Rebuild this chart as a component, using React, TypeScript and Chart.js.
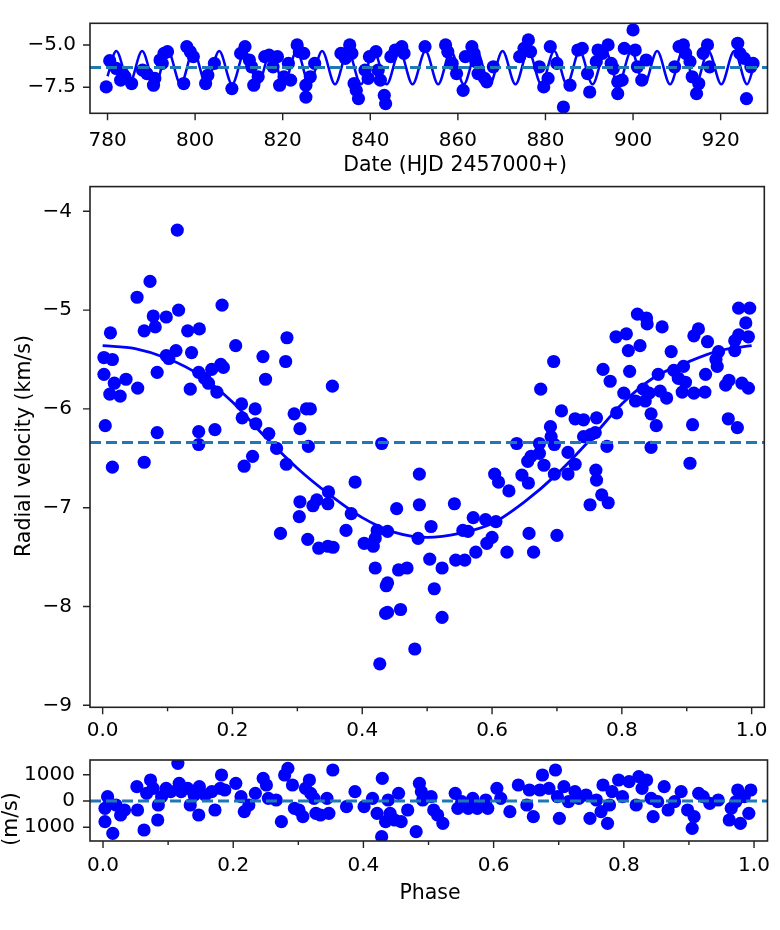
import React, { useEffect, useRef } from "react";
import { Chart, registerables } from "chart.js";

Chart.register(...registerables);

const FONT = "'DejaVu Sans', sans-serif";
const POINT_BLUE = "#0000ff";
const DASH_BLUE = "#1f77b4";

// ---------- Top panel: RV vs date ----------
const TIME_DATES = [779.7, 780.5, 782.0, 783.0, 784.0, 785.5, 783.5, 788.0, 789.0, 790.5, 790.8, 792.0, 792.9, 793.7, 792.5, 797.4, 798.1, 798.9, 799.6, 802.4, 802.9, 804.4, 808.4, 810.4, 811.4, 812.4, 812.9, 813.4, 814.4, 815.9, 816.9, 817.8, 818.8, 819.3, 820.3, 821.3, 821.8, 823.3, 823.8, 824.8, 825.3, 825.3, 826.3, 827.3, 833.3, 834.3, 835.3, 835.8, 836.3, 836.8, 837.3, 838.8, 839.5, 839.8, 841.3, 841.8, 842.3, 843.2, 843.5, 844.7, 845.7, 847.2, 847.7, 852.5, 857.2, 857.7, 858.7, 859.7, 861.2, 861.7, 863.2, 863.7, 864.1, 864.6, 866.1, 866.6, 868.1, 874.1, 875.1, 876.1, 876.6, 878.6, 879.6, 880.6, 881.1, 882.6, 884.1, 885.6, 887.4, 888.4, 889.6, 890.1, 891.6, 892.0, 893.0, 894.3, 895.0, 895.5, 896.5, 896.5, 897.5, 898.0, 900.0, 900.5, 901.0, 902.0, 903.0, 909.5, 910.5, 911.5, 912.0, 913.0, 913.5, 914.5, 915.0, 916.0, 917.0, 917.5, 923.9, 924.4, 925.4, 925.9, 926.9, 927.4];
const TIME_RV = [-7.48, -5.93, -6.39, -7.08, -6.88, -7.28, -6.69, -6.49, -6.69, -7.38, -6.98, -5.89, -5.5, -5.4, -6.09, -7.28, -5.1, -5.4, -5.69, -7.28, -6.79, -6.09, -7.58, -5.5, -5.1, -5.89, -6.29, -7.38, -6.88, -5.69, -5.6, -6.29, -5.69, -7.38, -6.88, -6.09, -7.08, -5.0, -5.4, -5.5, -7.38, -8.08, -6.88, -6.09, -5.5, -5.79, -5.0, -5.5, -7.28, -7.68, -8.17, -6.49, -6.98, -5.69, -5.4, -6.49, -7.08, -7.98, -8.47, -5.69, -5.3, -5.1, -5.5, -5.1, -5.0, -5.4, -6.09, -6.69, -7.68, -5.69, -5.1, -5.5, -5.99, -6.69, -6.98, -7.18, -6.29, -5.69, -5.2, -4.7, -5.4, -6.29, -7.48, -6.98, -5.1, -6.09, -8.67, -7.38, -5.3, -5.2, -6.69, -7.78, -5.99, -5.3, -5.5, -5.0, -6.09, -6.39, -7.18, -7.88, -7.08, -5.2, -4.11, -5.3, -6.29, -7.08, -5.89, -6.29, -5.1, -5.0, -5.5, -5.99, -6.88, -7.88, -7.28, -5.5, -5.0, -6.29, -4.9, -5.5, -5.79, -8.17, -6.29, -6.09];

// model curve turning points
const TIME_MODEL_DATES = [780.0, 782.0, 784.95, 787.9, 790.85, 793.8, 796.7, 799.6, 802.55, 805.5, 808.45, 811.4, 814.35, 817.3, 820.25, 823.2, 826.1, 829.0, 831.95, 834.9, 837.85, 840.8, 843.75, 846.7, 849.65, 852.6, 855.5, 858.4, 861.35, 864.3, 867.25, 870.2, 873.15, 876.1, 879.05, 882.0, 884.9, 887.8, 890.75, 893.7, 896.65, 899.6, 902.55, 905.5, 908.45, 911.4, 914.3, 917.2, 920.15, 923.1, 926.05, 927.5];
const TIME_MODEL_RV = [-6.85, -5.36, -7.32, -5.36, -7.32, -5.36, -7.32, -5.36, -7.32, -5.36, -7.32, -5.36, -7.32, -5.36, -7.32, -5.36, -7.32, -5.36, -7.32, -5.36, -7.32, -5.36, -7.32, -5.36, -7.32, -5.36, -7.32, -5.36, -7.32, -5.36, -7.32, -5.36, -7.32, -5.36, -7.32, -5.36, -7.32, -5.36, -7.32, -5.36, -7.32, -5.36, -7.32, -5.36, -7.32, -5.36, -7.32, -5.36, -7.32, -5.36, -7.32, -6.33];

const SYSTEMIC_RV = -6.34;

const TIME_X_TICKS = [780, 800, 820, 840, 860, 880, 900, 920];
const TIME_Y_TICKS = [-7.5, -5.0];

// ---------- Middle panel: RV vs phase ----------
const PHASE = [0.115, 0.073, 0.053, 0.184, 0.117, 0.078, 0.098, 0.081, 0.064, 0.012, 0.131, 0.149, 0.205, 0.284, 0.113, 0.137, 0.098, 0.102, 0.002, 0.015, 0.247, 0.282, 0.084, 0.148, 0.168, 0.182, 0.186, 0.002, 0.018, 0.036, 0.054, 0.011, 0.027, 0.135, 0.157, 0.163, 0.176, 0.251, 0.354, 0.214, 0.235, 0.215, 0.236, 0.256, 0.295, 0.314, 0.320, 0.304, 0.004, 0.084, 0.148, 0.173, 0.148, 0.268, 0.317, 0.430, 0.015, 0.064, 0.218, 0.231, 0.283, 0.488, 0.389, 0.348, 0.304, 0.330, 0.324, 0.347, 0.303, 0.453, 0.488, 0.383, 0.274, 0.316, 0.333, 0.347, 0.355, 0.375, 0.403, 0.417, 0.420, 0.423, 0.439, 0.486, 0.420, 0.456, 0.469, 0.439, 0.437, 0.436, 0.439, 0.459, 0.481, 0.427, 0.506, 0.504, 0.511, 0.523, 0.523, 0.542, 0.544, 0.558, 0.555, 0.563, 0.571, 0.575, 0.590, 0.606, 0.592, 0.600, 0.623, 0.657, 0.664, 0.700, 0.604, 0.610, 0.626, 0.646, 0.656, 0.655, 0.660, 0.673, 0.680, 0.696, 0.717, 0.717, 0.728, 0.760, 0.761, 0.769, 0.751, 0.779, 0.777, 0.845, 0.905, 0.638, 0.673, 0.696, 0.695, 0.675, 0.707, 0.728, 0.741, 0.761, 0.690, 0.691, 0.741, 0.752, 0.759, 0.792, 0.803, 0.771, 0.782, 0.791, 0.807, 0.810, 0.828, 0.812, 0.824, 0.838, 0.839, 0.862, 0.876, 0.845, 0.853, 0.821, 0.833, 0.836, 0.842, 0.856, 0.859, 0.869, 0.880, 0.887, 0.895, 0.893, 0.898, 0.911, 0.928, 0.929, 0.909, 0.911, 0.918, 0.932, 0.947, 0.945, 0.949, 0.960, 0.965, 0.964, 0.978, 0.985, 0.995, 0.974, 0.974, 0.980, 0.995, 0.991, 0.980, 0.997];
const PHASE_RV = [-4.19, -4.71, -4.87, -4.95, -5.0, -5.06, -5.07, -5.17, -5.21, -5.23, -5.21, -5.19, -5.36, -5.28, -5.41, -5.43, -5.46, -5.49, -5.48, -5.5, -5.47, -5.52, -5.63, -5.63, -5.6, -5.55, -5.58, -5.65, -5.74, -5.7, -5.79, -5.85, -5.87, -5.8, -5.69, -5.74, -5.83, -5.7, -5.77, -5.95, -6.0, -6.09, -6.15, -6.25, -6.05, -6.0, -6.0, -6.2, -6.17, -6.24, -6.23, -6.21, -6.36, -6.4, -6.38, -6.35, -6.59, -6.54, -6.58, -6.48, -6.56, -6.66, -6.74, -6.84, -6.94, -6.92, -6.98, -6.96, -7.09, -7.01, -6.97, -7.06, -7.26, -7.32, -7.41, -7.39, -7.4, -7.23, -7.36, -7.39, -7.31, -7.23, -7.24, -7.31, -7.61, -7.63, -7.61, -7.76, -7.79, -8.07, -8.06, -8.03, -8.43, -8.58, -7.19, -7.52, -7.82, -7.61, -8.11, -6.96, -7.53, -7.53, -7.23, -7.24, -7.1, -7.45, -7.12, -7.14, -7.36, -7.3, -7.45, -7.26, -7.45, -7.28, -6.66, -6.74, -6.83, -6.67, -6.75, -6.53, -6.48, -6.45, -6.57, -6.66, -6.44, -6.66, -6.56, -6.62, -6.72, -6.87, -6.97, -6.95, -6.38, -6.39, -6.55, -6.35, -6.35, -6.36, -5.52, -5.8, -6.02, -6.1, -6.11, -6.09, -6.18, -6.28, -6.28, -6.26, -6.24, -6.04, -5.84, -5.6, -5.72, -5.27, -5.24, -5.41, -5.36, -5.62, -5.04, -5.08, -5.14, -5.17, -5.42, -6.05, -6.17, -5.92, -5.8, -5.92, -5.84, -5.65, -5.82, -5.89, -5.61, -5.69, -5.57, -5.83, -5.73, -5.84, -5.83, -5.65, -6.16, -5.26, -5.19, -5.32, -5.57, -5.5, -5.42, -5.76, -5.71, -6.1, -6.19, -5.74, -5.79, -5.41, -5.31, -5.25, -5.27, -5.13, -4.98, -4.98];

// fitted orbit
const MODEL_PHASE = [0.0, 0.05, 0.1, 0.15, 0.2, 0.25, 0.3, 0.35, 0.4, 0.45, 0.5, 0.55, 0.6, 0.65, 0.7, 0.75, 0.8, 0.85, 0.9, 0.95, 1.0];
const MODEL_RV = [-5.36, -5.39, -5.49, -5.66, -5.93, -6.28, -6.6, -6.87, -7.1, -7.25, -7.3, -7.26, -7.16, -6.94, -6.66, -6.32, -5.95, -5.68, -5.53, -5.41, -5.36];

const PHASE_X_TICKS = [0.0, 0.2, 0.4, 0.6, 0.8, 1.0];
const PHASE_X_MINOR = [0.1, 0.3, 0.5, 0.7, 0.9];
const RV_Y_TICKS = [-9, -8, -7, -6, -5, -4];

// ---------- Bottom panel: residuals vs phase ----------
const RESID_PHASE = [0.003, 0.007, 0.010, 0.003, 0.015, 0.020, 0.027, 0.033, 0.053, 0.052, 0.063, 0.067, 0.073, 0.077, 0.084, 0.085, 0.090, 0.097, 0.104, 0.115, 0.117, 0.120, 0.130, 0.134, 0.140, 0.147, 0.148, 0.157, 0.167, 0.172, 0.180, 0.182, 0.187, 0.204, 0.212, 0.217, 0.224, 0.234, 0.246, 0.251, 0.254, 0.266, 0.274, 0.279, 0.284, 0.291, 0.294, 0.301, 0.307, 0.311, 0.317, 0.319, 0.324, 0.327, 0.334, 0.344, 0.347, 0.353, 0.374, 0.387, 0.401, 0.414, 0.421, 0.428, 0.429, 0.434, 0.438, 0.441, 0.448, 0.454, 0.458, 0.468, 0.481, 0.486, 0.489, 0.491, 0.504, 0.508, 0.514, 0.522, 0.541, 0.545, 0.551, 0.561, 0.568, 0.575, 0.588, 0.591, 0.605, 0.611, 0.625, 0.638, 0.651, 0.655, 0.661, 0.671, 0.675, 0.685, 0.695, 0.698, 0.701, 0.708, 0.715, 0.725, 0.731, 0.742, 0.748, 0.758, 0.765, 0.768, 0.775, 0.778, 0.782, 0.792, 0.798, 0.808, 0.819, 0.823, 0.828, 0.835, 0.842, 0.845, 0.852, 0.862, 0.868, 0.878, 0.888, 0.898, 0.905, 0.908, 0.915, 0.922, 0.932, 0.945, 0.962, 0.965, 0.972, 0.975, 0.979, 0.985, 0.992, 0.995];
const RESID_MS = [-280, 165, -89, -789, -1234, -153, -534, -343, -343, 547, -1107, 293, 801, 483, -725, -153, 165, 483, 356, 1437, 674, 356, 483, -153, 229, -534, 547, 229, 356, -343, 483, 992, 420, 674, 165, -407, -153, 293, 865, 611, 102, 38, -789, 992, 1247, 611, -280, -343, -598, 483, 801, 293, 102, -471, -534, 102, -471, 1183, -216, 356, -216, 102, -471, -1361, 865, -789, 38, -471, -725, 293, -789, -343, -1170, 674, 356, 38, 165, -343, -534, -852, 293, -280, -25, -280, 102, -280, 38, -280, 483, 102, -407, 611, -153, 420, -598, 420, 992, 483, 1183, 165, -661, 547, -25, 356, 102, 229, -661, 38, -407, 611, -852, -153, 356, 801, 165, 738, -153, 929, 483, 801, 102, -598, -25, 547, -343, -25, 356, -343, -1043, -598, 293, 165, -89, 38, -725, -280, -25, 420, -852, 165, -471, 420];

const RESID_Y_TICKS = [-1000, 0, 1000];

type Title = { text: string; x: number; y: number; rotate?: boolean; size: number };
type Spec = {
  top: number;
  height: number;
  area: { left: number; right: number; top: number; bottom: number };
  x: { min: number; max: number; major: number[]; minor: number[]; fmt: (v: number) => string; pad: number };
  y: { min: number; max: number; major: number[]; fmt: (v: number) => string; pad: number };
  tickSize: number;
  titles: Title[];
  datasets: any[];
};

const minus = (s: string) => s.replace("-", "\u2212");

function pts(xs: number[], ys: number[]) {
  return xs.map((x, i) => ({ x, y: ys[i] }));
}

function scatterSet(xs: number[], ys: number[]) {
  return {
    type: "scatter",
    data: pts(xs, ys),
    pointRadius: 6.6,
    pointHoverRadius: 6.6,
    pointBackgroundColor: POINT_BLUE,
    pointBorderWidth: 0,
    borderWidth: 0,
    showLine: false,
    order: 3,
    clip: 0,
  };
}

function curveSet(xs: number[], ys: number[], width: number) {
  return {
    type: "line",
    data: pts(xs, ys),
    borderColor: POINT_BLUE,
    borderWidth: width,
    pointRadius: 0,
    showLine: true,
    fill: false,
    cubicInterpolationMode: "monotone",
    order: 2,
    clip: 0,
  };
}

function dashSet(xmin: number, xmax: number, y: number) {
  return {
    type: "line",
    data: [
      { x: xmin, y },
      { x: xmax, y },
    ],
    borderColor: DASH_BLUE,
    borderWidth: 3,
    borderDash: [11, 5],
    pointRadius: 0,
    showLine: true,
    fill: false,
    order: 1,
    clip: 0,
  };
}

function makeConfig(spec: Spec): any {
  const a = spec.area;
  const decor = {
    id: "decor",
    afterDatasetsDraw(chart: any) {
      const ctx = chart.ctx;
      const ca = chart.chartArea;
      const xs = chart.scales.x;
      const ys = chart.scales.y;
      ctx.save();
      ctx.strokeStyle = "#222";
      ctx.lineWidth = 1.6;
      ctx.strokeRect(ca.left, ca.top, ca.right - ca.left, ca.bottom - ca.top);
      ctx.lineWidth = 1.4;
      ctx.beginPath();
      spec.x.major.forEach((v) => {
        const p = xs.getPixelForValue(v);
        ctx.moveTo(p, ca.bottom);
        ctx.lineTo(p, ca.bottom + 7);
      });
      spec.x.minor.forEach((v) => {
        const p = xs.getPixelForValue(v);
        ctx.moveTo(p, ca.bottom);
        ctx.lineTo(p, ca.bottom + 4);
      });
      spec.y.major.forEach((v) => {
        const p = ys.getPixelForValue(v);
        ctx.moveTo(ca.left, p);
        ctx.lineTo(ca.left - 7, p);
      });
      ctx.stroke();
      ctx.fillStyle = "#000";
      ctx.textAlign = "center";
      ctx.textBaseline = "middle";
      spec.titles.forEach((t) => {
        ctx.font = `${t.size}px ${FONT}`;
        const ty = t.y - spec.top;
        if (t.rotate) {
          ctx.save();
          ctx.translate(t.x, ty);
          ctx.rotate(-Math.PI / 2);
          ctx.fillText(t.text, 0, 0);
          ctx.restore();
        } else {
          ctx.fillText(t.text, t.x, ty);
        }
      });
      ctx.restore();
    },
  };

  const tickFont = { family: FONT, size: spec.tickSize };
  return {
    type: "scatter",
    data: { datasets: spec.datasets },
    options: {
      responsive: false,
      animation: false,
      devicePixelRatio: 1,
      events: [],
      layout: {
        padding: { left: 0, right: 780 - a.right, top: a.top - spec.top, bottom: 0 },
      },
      plugins: { legend: { display: false }, tooltip: { enabled: false }, title: { display: false } },
      scales: {
        x: {
          type: "linear",
          position: "bottom",
          min: spec.x.min,
          max: spec.x.max,
          afterBuildTicks: (s: any) => {
            s.ticks = spec.x.major.map((v) => ({ value: v }));
          },
          afterFit: (s: any) => {
            s.height = spec.top + spec.height - a.bottom;
            s.paddingLeft = 0;
            s.paddingRight = 0;
          },
          ticks: {
            autoSkip: false,
            maxRotation: 0,
            minRotation: 0,
            padding: spec.x.pad,
            color: "#000",
            font: tickFont,
            callback: (v: any) => spec.x.fmt(Number(v)),
          },
          grid: { display: true, drawOnChartArea: false, drawTicks: false },
          border: { display: false },
        },
        y: {
          type: "linear",
          position: "left",
          min: spec.y.min,
          max: spec.y.max,
          afterBuildTicks: (s: any) => {
            s.ticks = spec.y.major.map((v) => ({ value: v }));
          },
          afterFit: (s: any) => {
            s.width = a.left;
            s.paddingTop = 0;
            s.paddingBottom = 0;
          },
          ticks: {
            autoSkip: false,
            padding: spec.y.pad,
            color: "#000",
            font: tickFont,
            callback: (v: any) => spec.y.fmt(Number(v)),
          },
          grid: { display: true, drawOnChartArea: false, drawTicks: false },
          border: { display: false },
        },
      },
    },
    plugins: [decor],
  };
}

const TOP_X = { min: 776, max: 930.7 };
const MID_X = { min: -0.0195, max: 1.0195 };
const BOT_X = { min: -0.02, max: 1.0207 };

const SPECS: Spec[] = [
  {
    top: 0,
    height: 180,
    area: { left: 90, right: 767.5, top: 23.3, bottom: 113.3 },
    x: { ...TOP_X, major: TIME_X_TICKS, minor: [], fmt: (v) => String(v), pad: 15 },
    y: { min: -9.04, max: -3.72, major: TIME_Y_TICKS, fmt: (v) => minus(v.toFixed(1)), pad: 14 },
    tickSize: 20,
    titles: [{ text: "Date (HJD 2457000+)", x: 455, y: 166, size: 20.5 }],
    datasets: [
      dashSet(TOP_X.min, TOP_X.max, SYSTEMIC_RV),
      curveSet(TIME_MODEL_DATES, TIME_MODEL_RV, 2.5),
      scatterSet(TIME_DATES, TIME_RV),
    ],
  },
  {
    top: 180,
    height: 570,
    area: { left: 90, right: 764.3, top: 185.7, bottom: 707.3 },
    x: { ...MID_X, major: PHASE_X_TICKS, minor: PHASE_X_MINOR, fmt: (v) => v.toFixed(1), pad: 11 },
    y: { min: -9.02, max: -3.75, major: RV_Y_TICKS, fmt: (v) => minus(String(v)), pad: 18 },
    tickSize: 20,
    titles: [{ text: "Radial velocity (km/s)", x: 25, y: 446, rotate: true, size: 20.5 }],
    datasets: [
      dashSet(MID_X.min, MID_X.max, SYSTEMIC_RV),
      curveSet(MODEL_PHASE, MODEL_RV, 2.8),
      scatterSet(PHASE, PHASE_RV),
    ],
  },
  {
    top: 750,
    height: 180,
    area: { left: 90, right: 767.5, top: 760, bottom: 841 },
    x: { ...BOT_X, major: PHASE_X_TICKS, minor: PHASE_X_MINOR, fmt: (v) => v.toFixed(1), pad: 13 },
    y: { min: -1527, max: 1565, major: RESID_Y_TICKS, fmt: (v) => String(Math.abs(v)), pad: 15 },
    tickSize: 20,
    titles: [
      { text: "Phase", x: 430, y: 894, size: 20.5 },
      { text: "(m/s)", x: 12, y: 819, rotate: true, size: 20.5 },
    ],
    datasets: [dashSet(BOT_X.min, BOT_X.max, 0), scatterSet(RESID_PHASE, RESID_MS)],
  },
];

function Panel({ spec }: { spec: Spec }) {
  const ref = useRef<HTMLCanvasElement | null>(null);
  useEffect(() => {
    if (!ref.current) return;
    const chart = new Chart(ref.current, makeConfig(spec));
    return () => chart.destroy();
  }, [spec]);
  return (
    <canvas
      ref={ref}
      width={780}
      height={spec.height}
      style={{ position: "absolute", left: 0, top: spec.top, width: 780, height: spec.height }}
    />
  );
}

export default function App() {
  return (
    <div style={{ position: "fixed", left: 0, top: 0, width: 780, height: 930, background: "#fff", overflow: "hidden" }}>
      {SPECS.map((s, i) => (
        <Panel key={i} spec={s} />
      ))}
    </div>
  );
}
